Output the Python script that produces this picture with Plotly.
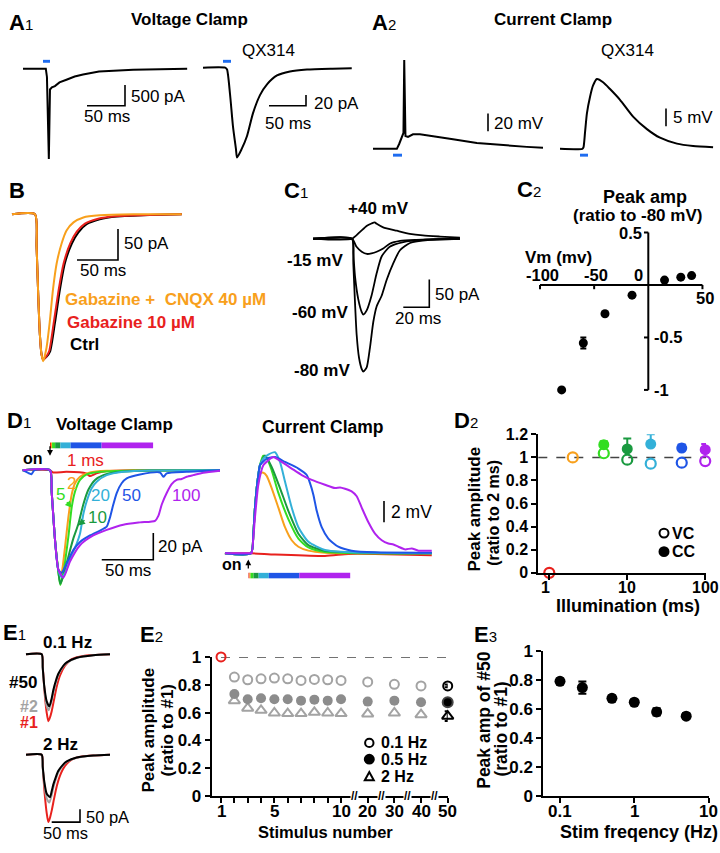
import math
import plotly.graph_objects as go

W, H = 720, 853
FONT = "Liberation Sans, Arial, Helvetica, sans-serif"

STIM = "#1e6cf0"
ORANGE = "#f8a01c"
RED = "#e8211d"
LIME = "#33dd22"
DGREEN = "#1a9a40"
CYAN = "#33b0d8"
BLUE = "#1f55e6"
PURPLE = "#b023ee"
GRAY = "#a3a3a3"
DGRAY = "#8c8c8c"

# ---------------- data ----------------
# A1 voltage clamp (ms, pA)
A1_vc_t = [0, 30, 31.5, 33, 34, 35.5, 38, 42, 48, 58, 68, 79, 100, 145, 216]
A1_vc_i = [0, 0, -200, -1400, -2170, -500, -450, -420, -330, -260, -190, -140, -70, -24, 0]
A1_qx_t = [0, 30, 32.5, 36.5, 40.5, 44.5, 46, 52, 59.5, 67.5, 77, 86.5, 100, 117.5, 140.5, 175, 201]
A1_qx_i = [0, 0, -3.5, -49, -109, -151, -167, -152, -127, -85, -51, -31, -14.5, -7, -3.5, -1.8, -0.9]
# A2 current clamp (ms, mV)
A2_cc_t = [0, 31, 34, 37, 39.6, 40.6, 42.2, 45.5, 52, 61, 78, 104, 135, 165, 200, 221]
A2_cc_v = [0, 0, 5.5, 12.5, 18, 101, 14.5, 13.5, 16.5, 16.5, 14.5, 11, 6.7, 4.4, 2.2, 1.1]
A2_qx_t = [0, 29, 30.5, 32.5, 35, 39, 43, 48, 56, 65, 78, 95, 113, 130, 152, 173, 199]
A2_qx_v = [0, 0, 0.4, 4.5, 9.9, 14.5, 17.7, 19.5, 18.6, 16.7, 13.7, 9, 5.5, 3.1, 1.45, 0.8, 0.45]
# B (ms, pA)
B_ctrl_t = [0, 28, 30, 32, 34, 36, 38, 42, 46.5, 52.5, 58.5, 64.5, 73, 81, 91, 107, 128, 168, 207]
B_ctrl_i = [0, 0, -52, -131, -194, -226, -234, -230, -221, -174, -121, -79, -47, -29, -16, -8, -3.6, -1.1, 0]
B_gbz_t = [0, 28, 30, 32, 34, 36, 38, 42, 45.5, 51, 57, 63, 71, 79, 89, 105, 126, 165, 207]
B_gbz_i = [0, 0, -52, -131, -194, -226, -235, -229, -220, -174, -121, -79, -47, -28, -15, -7, -3, -1, 0]
B_cnqx_t = [0, 28, 30, 32, 34, 36, 38, 42, 46, 50, 54.5, 60.5, 66.5, 75, 87, 107, 148, 207]
B_cnqx_i = [0, 0, -52, -131, -194, -226, -237, -216, -174, -121, -79, -47, -26, -13, -5, -1.6, 0, 0]
# C1 (ms, pA)
C1_p40_t = [0, 30, 36, 41.5, 45, 47.5, 49, 54, 64.5, 74.5, 84.5, 97.5, 113]
C1_p40_i = [0, 0, 12, 23.5, 27.5, 29.5, 27, 20.5, 14.5, 9, 6, 4, 2]
C1_m15_t = [0, 30, 33.5, 37.5, 41.5, 45, 49, 54, 59, 67, 79.5, 97.5, 113]
C1_m15_i = [0, 0, -14.5, -23.5, -27.5, -26.5, -23.5, -17.5, -9, -4, -2, -0.5, 0]
C1_m60_t = [0, 30, 31, 32.3, 34.8, 37.5, 38.7, 41.3, 45, 49, 52.8, 59, 69.5, 84.8, 113]
C1_m60_i = [0, 0, -26.5, -67.5, -109, -132.5, -137, -129.5, -103, -62, -32, -14.5, -6, -2, 0]
C1_m80_t = [0, 30, 31, 32.3, 33.6, 35.4, 37.5, 38.7, 41.3, 43.8, 46.4, 49, 52.8, 56.7, 61.8, 66.9, 74.6, 90, 113]
C1_m80_i = [0, 0, -44, -115, -174, -215, -235.5, -240, -232.5, -197, -150, -122, -103, -74, -44, -20.7, -7.6, -2, 0]
# C2 I-V
C2_vm = [-80, -60, -40, -15, 15, 30, 40]
C2_amp = [-1.0, -0.553, -0.274, -0.097, 0.047, 0.075, 0.09]
C2_err = [0, 0.053, 0, 0, 0, 0, 0]
# D1 illumination durations (ms) and colours
ILLUM = [1, 2, 5, 10, 20, 50, 100]
ILLUM_COL = [RED, ORANGE, LIME, DGREEN, CYAN, BLUE, PURPLE]
# D1 voltage clamp (ms, pA)
VC_t = {
    1: [-26.5, 0, 3, 16, 35, 38, 40, 45, 55, 80, 165],
    2: [-26.5, 0, 1.6, 4.9, 8.1, 9.7, 11.3, 14.6, 17.8, 21, 24.3, 29.1, 38.8, 55, 165],
    5: [-26.5, 0, 1.6, 4.9, 8.1, 10, 12.9, 17.8, 21, 24.3, 29.1, 35.6, 48.5, 80.8, 165],
    10: [-26.5, 0, 1.6, 4.9, 8.1, 10, 12.9, 17.8, 22.6, 27.5, 32.3, 37.2, 43.7, 51.7, 67.9, 97, 165],
    20: [-26.5, 0, 1.6, 4.9, 8.1, 11, 14.6, 21, 25.9, 29.1, 32.3, 35.6, 40.4, 45.3, 55, 71.1, 97, 165],
    50: [-26.5, -20, -18, -15, 0, 1.6, 4.9, 8.1, 11.3, 16.2, 22.6, 29.1, 38.8, 48.5, 55, 58.2, 61.4, 64.7, 69.5, 74.4, 87.3, 106.7, 110, 113.2, 132.6, 165],
    100: [-26.5, 0, 1.6, 4.9, 8.1, 12.9, 19.4, 29.1, 42, 55, 71.1, 87.3, 101.9, 105.1, 108.4, 113.2, 118, 122.9, 127.7, 132.6, 139, 148.7, 164.9],
}
VC_i = {
    1: [0, 0, -1.7, -1.2, -2.4, -4.2, -4.2, -2.4, -0.7, 0, 0],
    2: [0, 0, -16, -52.5, -74.5, -79, -77, -57.4, -35.4, -18.4, -9.8, -4.9, -1.7, -0.5, 0],
    5: [0, 0, -16, -52.5, -76, -86, -77, -50, -28.1, -16, -7.3, -3.2, -1.2, -0.2, 0],
    10: [0, 0, -16, -52.5, -76, -85, -79.4, -64.8, -51.3, -40.3, -25.7, -14.7, -7.3, -3.7, -1.2, -0.2, 0],
    20: [0, 0, -16, -52.5, -75, -80, -77, -63.5, -55, -47.7, -33, -23.3, -13.5, -8.6, -3.7, -1.2, -0.2, 0],
    50: [0, -2.5, -3, 0, 0, -16, -52.5, -74.5, -77, -69.7, -59.9, -53.8, -48.9, -45.2, -42.3, -35.4, -25.7, -17.1, -9.8, -6.1, -3.2, -1.7, -4.9, -2.4, -1.2, 0],
    100: [0, 0, -16, -52.5, -74.5, -80.6, -68.4, -56.2, -48.9, -44.7, -40.8, -39.1, -37.9, -34.2, -25.7, -17.1, -10.5, -7.3, -6.6, -4.9, -3.7, -2, -0.5],
}
# D1 current clamp (ms, mV)
CC_t = {
    1: [-25.6, 0, 23.6, 72.7, 95.7, 121.9, 177.7],
    2: [-25.6, 0, 2.3, 3.9, 5.6, 7.2, 9, 12.1, 15.4, 20.3, 26.9, 33.4, 40, 46.6, 56.4, 72.7, 177.7],
    5: [-25.6, 0, 2.3, 3.9, 5.6, 7.2, 8.8, 12.1, 15.4, 20.3, 26.9, 36.7, 46.6, 56.4, 72.7, 177.7],
    10: [-25.6, 0, 2.3, 3.9, 5.6, 7.2, 8.8, 13.8, 20.3, 28.5, 36.7, 46.6, 56.4, 72.7, 177.7],
    20: [-25.6, 0, 2.3, 3.9, 5.6, 7.2, 8.8, 12.1, 17, 23.6, 28.5, 33.4, 40, 46.6, 56.4, 72.7, 98.9, 177.7],
    50: [-25.6, 0, 2.3, 3.9, 5.6, 7.2, 8.8, 15.4, 23.6, 33.4, 46.6, 54.8, 58, 61.3, 64.6, 69.5, 76, 85.8, 98.9, 121.9, 177.7],
    100: [-25.6, 0, 0.66, 3.9, 7.2, 12.1, 17, 21.9, 30.1, 40, 49.9, 59.7, 72.7, 82.5, 87.5, 92.4, 98.9, 103.9, 108.8, 115.4, 121.9, 128.5, 135, 140, 144.9, 151.5, 158, 164.6, 177.7],
}
CC_v = {
    1: [0, 0, -0.12, -0.25, -0.06, -0.06, -0.18],
    2: [0, 0, 1.85, 4.31, 6.15, 7.0, 7.5, 7.6, 7.3, 6.15, 4.31, 2.46, 1.23, 0.62, 0.25, 0.06, 0],
    5: [0, 0, 1.85, 4.31, 6.15, 7.38, 8.3, 9.2, 9.0, 7.84, 5.69, 3.23, 1.39, 0.55, 0.12, 0],
    10: [0, 0, 1.85, 4.31, 6.15, 7.38, 8.3, 9.22, 8.14, 6.15, 4.0, 1.85, 0.77, 0.25, 0],
    20: [0, 0, 1.85, 4.31, 6.15, 7.38, 8.3, 8.92, 9.3, 9.53, 8.61, 6.76, 4.31, 2.46, 1.08, 0.31, 0.09, 0],
    50: [0, 0, 1.85, 4.31, 6.15, 7.38, 8.3, 8.92, 9.07, 8.61, 7.99, 7.38, 6.61, 5.53, 4.0, 2.46, 1.39, 0.62, 0.25, 0.09, 0.06],
    100: [0, 0, 0, 3.38, 6.46, 8.3, 8.76, 9.07, 8.61, 7.99, 7.38, 6.92, 6.46, 6.15, 6.21, 6.09, 5.84, 5.38, 4.31, 2.92, 1.85, 1.23, 0.92, 0.83, 0.62, 0.37, 0.46, 0.25, 0.25],
}
# D2
D2_ms = [1, 2, 5, 10, 20, 50, 100]
D2_vc = [0.0, 1.0, 1.036, 0.98, 0.946, 0.954, 0.968]
D2_cc_ms = [5, 10, 20, 50, 100]
D2_cc = [1.11, 1.073, 1.115, 1.081, 1.067]
D2_cc_err = [0.03, 0.09, 0.085, 0.03, 0.05]
D2_xticks = [1, 10, 100]
# E1 traces (ms, pA)
E1_01_t = {"#50": [0, 27.7, 29.5, 32.4, 36.6, 41.2, 45.4, 48.2, 53, 57.1, 65.9, 71.9, 89.6, 118.9, 148.4],
           "#2": [0, 27.7, 29.5, 32.4, 36.6, 40.1, 44.5, 48.2, 53, 57.1, 65.9, 71.9, 89.6, 118.9, 148.4],
           "#1": [0, 27.7, 30, 33, 36.6, 39.4, 42, 45.4, 49.5, 54.2, 60.1, 68.9, 80.7, 101.2, 148.4]}
E1_01_i = {"#50": [0, 0, -50, -125, -181, -200, -169, -138, -100, -75, -44, -31, -13, -3.3, 0],
           "#2": [0, 0, -50, -130, -200, -215, -185, -150, -108, -80, -47, -33, -14, -3.5, 0],
           "#1": [0, 0, -60, -150, -225, -257, -245, -219, -175, -125, -81.5, -44, -19, -6.3, 0]}
E1_2_t = {"#50": [0, 27.7, 29.5, 32.4, 36.6, 42.4, 45.4, 48.2, 53, 57.1, 65.9, 71.9, 89.6, 118.9, 148.4],
          "#2": [0, 27.7, 29.5, 32.4, 36.6, 41.2, 45.4, 48.2, 53, 57.1, 65.9, 71.9, 89.6, 118.9, 148.4],
          "#1": [0, 27.7, 30, 33, 36.6, 39.4, 42, 45.4, 49.5, 54.2, 60.1, 68.9, 80.7, 101.2, 148.4]}
E1_2_i = {"#50": [0, 0, -45, -105, -150, -163, -140, -115, -84, -62, -37, -26, -11, -3, 0],
          "#2": [0, 0, -50, -115, -168, -184, -155, -127, -92, -68, -40, -28, -12, -3, 0],
          "#1": [0, 0, -60, -150, -225, -259, -245, -215, -170, -122, -80, -43, -19, -6, 0]}
# E2
E2_stim = [1, 2, 3, 4, 5, 6, 7, 8, 9, 10, 20, 30, 40, 50]
E2_01 = [1.0, 0.855, 0.836, 0.843, 0.848, 0.843, 0.831, 0.838, 0.836, 0.831, 0.82, 0.803, 0.792, 0.792]
E2_05 = [1.0, 0.733, 0.696, 0.703, 0.696, 0.696, 0.686, 0.693, 0.686, 0.696, 0.679, 0.686, 0.674, 0.674]
E2_2 = [1.0, 0.686, 0.632, 0.616, 0.597, 0.593, 0.593, 0.602, 0.597, 0.593, 0.59, 0.597, 0.585, 0.574]
E2_err50 = [0.01, 0.02, 0.035]
E2_ticklab = [1, 5, 10, 20, 30, 40, 50]
# E3
E3_f = [0.1, 0.2, 0.5, 1, 2, 5]
E3_amp = [0.791, 0.748, 0.674, 0.647, 0.58, 0.551]
E3_err = [0.02, 0.042, 0.02, 0.015, 0.025, 0.02]
E3_xticks = [0.1, 1, 10]

# ---------------- helpers ----------------
fig = go.Figure()
layout = {}
shapes = []
annos = []


def X(px):
    return px / W


def Y(py):
    return 1 - py / H


def axn(n):
    return "" if n == 1 else str(n)


def panel(n, box, origin, sx, sy):
    x0, y0, x1, y1 = box
    ox, oy = origin
    layout["xaxis" + axn(n)] = dict(domain=[X(x0), X(x1)], range=[(x0 - ox) * sx, (x1 - ox) * sx],
                                     visible=False, anchor="y" + axn(n))
    layout["yaxis" + axn(n)] = dict(domain=[Y(y1), Y(y0)], range=[(oy - y1) * sy, (oy - y0) * sy],
                                     visible=False, anchor="x" + axn(n))
    return lambda px, py: ((px - ox) * sx, (oy - py) * sy)


def line(n, t, v, color="black", width=2, shape="spline"):
    fig.add_trace(go.Scatter(x=t, y=v, mode="lines",
                             line=dict(color=color, width=width, shape=shape, smoothing=0.6),
                             xaxis="x" + axn(n), yaxis="y" + axn(n), hoverinfo="skip", showlegend=False))


def scalebar(n, p2d, corner, dx=None, dy=None):
    cx, cy = p2d(*corner)
    if dx and dy:
        path = f"M{cx - dx},{cy} L{cx},{cy} L{cx},{cy + dy}"
    else:
        path = f"M{cx},{cy} L{cx},{cy + dy}"
    shapes.append(dict(type="path", path=path, xref="x" + axn(n), yref="y" + axn(n),
                       line=dict(color="black", width=1.6)))


def txt(px, py, s, size=17, color="black", bold=False, xanchor="center", angle=0):
    if bold:
        s = f"<b>{s}</b>"
    annos.append(dict(x=X(px), y=Y(py), xref="paper", yref="paper", text=s, showarrow=False,
                      xanchor=xanchor, yanchor="middle", textangle=angle,
                      font=dict(family=FONT, size=size, color=color)))


def letter(px, py, L, d):
    txt(px, py, f"<b>{L}</b><span style='font-size:15px'>{d}</span>", size=22, xanchor="left")


def rect(x0, y0, x1, y1, color):
    shapes.append(dict(type="rect", xref="paper", yref="paper", x0=X(x0), x1=X(x1), y0=Y(y1), y1=Y(y0),
                       fillcolor=color, line=dict(width=0)))


def arrow(tip, tail, color="black", width=1.3):
    annos.append(dict(x=X(tip[0]), y=Y(tip[1]), xref="paper", yref="paper", text="", showarrow=True,
                      ax=tail[0] - tip[0], ay=tail[1] - tip[1], arrowhead=2, arrowsize=0.9,
                      arrowwidth=width, arrowcolor=color))


def circ(cx, cy, r, filled):
    shapes.append(dict(type="circle", xref="paper", yref="paper", x0=X(cx - r), x1=X(cx + r),
                       y0=Y(cy + r), y1=Y(cy - r), line=dict(color="black", width=2),
                       fillcolor="black" if filled else "white"))


def xticklabel(n, xv, label, size, xshift=0):
    annos.append(dict(x=xv, y=0, xref="x" + axn(n), yref="y" + axn(n), text=f"<b>{label}</b>",
                      showarrow=False, xanchor="center", yanchor="top", yshift=-4, xshift=xshift,
                      font=dict(family=FONT, size=size, color="black")))


AX = dict(showline=True, linecolor="black", linewidth=2, ticks="outside", ticklen=5, tickwidth=2,
          tickcolor="black", showgrid=False, zeroline=False,
          tickfont=dict(family=FONT, size=16, color="black", weight="bold"))

# ---------------- Row A ----------------
letter(7, 14, "A", "1")
letter(370, 14, "A", "2")
txt(189, 11, "Voltage Clamp", 17, bold=True)
txt(553, 11, "Current Clamp", 17, bold=True)
txt(268, 42, "QX314", 17)
txt(627, 42, "QX314", 17)

p = panel(1, (15, 45, 200, 160), (23, 61), 50 / 38, 500 / 21.3)
line(1, A1_vc_t, A1_vc_i, shape="linear")
scalebar(1, p, (125, 99), 50, 500)
txt(129, 89, "500 pA", 17, xanchor="left")
txt(107, 110, "50 ms", 17)
rect(43, 52, 50, 55, STIM)

p = panel(2, (200, 45, 360, 160), (203, 60), 50 / 37, 20 / 11)
line(2, A1_qx_t, A1_qx_i)
scalebar(2, p, (306, 99), 50, 20)
txt(312, 97, "20 pA", 17, xanchor="left")
txt(288, 117, "50 ms", 17)
rect(223, 52, 231, 55, STIM)

p = panel(3, (365, 45, 550, 160), (373, 143), 1.3, 20 / 18)
line(3, A2_cc_t, A2_cc_v, shape="linear")
scalebar(3, p, (488, 125), dy=20)
txt(492, 117, "20 mV", 17, xanchor="left")
rect(393, 148, 402, 151, STIM)

p = panel(4, (555, 45, 720, 160), (560, 143), 1.3, 5 / 18.3)
line(4, A2_qx_t, A2_qx_v)
scalebar(4, p, (666, 120), dy=5)
txt(671, 111, "5 mV", 17, xanchor="left")
rect(580, 148, 588, 151, STIM)

# ---------------- Row B / C ----------------
letter(7, 186, "B", "")
p = panel(5, (5, 200, 190, 370), (12, 210), 50 / 41, 50 / 31.7)
line(5, B_ctrl_t, B_ctrl_i, "black")
line(5, B_gbz_t, B_gbz_i, RED)
line(5, B_cnqx_t, B_cnqx_i, ORANGE)
scalebar(5, p, (118, 256.7), 50, 50)
txt(122, 240, "50 pA", 17, xanchor="left")
txt(103, 267, "50 ms", 17)
txt(63, 297, "Gabazine +  CNQX 40 µM", 17, ORANGE, bold=True, xanchor="left")
txt(65, 321, "Gabazine 10 µM", 17, RED, bold=True, xanchor="left")
txt(68, 343, "Ctrl", 17, bold=True, xanchor="left")

letter(282, 186, "C", "1")
p = panel(6, (300, 205, 460, 380), (313, 235), 20 / 26, 50 / 28.3)
for t, v in [(C1_p40_t, C1_p40_i), (C1_m15_t, C1_m15_i), (C1_m60_t, C1_m60_i), (C1_m80_t, C1_m80_i)]:
    line(6, t, v, "black", 1.8)
scalebar(6, p, (429.3, 305), 20, 50)
txt(433, 292, "50 pA", 17, xanchor="left")
txt(418, 317, "20 ms", 17)
txt(378, 204, "+40 mV", 17, bold=True)
txt(345, 257, "-15 mV", 17, bold=True, xanchor="right")
txt(350, 310, "-60 mV", 17, bold=True, xanchor="right")
txt(352, 370, "-80 mV", 17, bold=True, xanchor="right")

# C2 crossing axes
letter(515, 185, "C", "2")
panel(7, (530, 215, 715, 400), (648.3, 282.3), 1 / 1.083, 1 / 107.3)
xa, ya = "x7", "y7"
shapes.append(dict(type="line", xref=xa, yref=ya, x0=-100, x1=50, y0=0, y1=0, line=dict(color="black", width=2)))
shapes.append(dict(type="line", xref=xa, yref=ya, x0=0, x1=0, y0=-1, y1=0.5, line=dict(color="black", width=2)))
for xv in [-100, -50, 50]:
    shapes.append(dict(type="line", xref=xa, yref=ya, x0=xv, x1=xv, y0=0, y1=-0.04, line=dict(color="black", width=2)))
for yv in [0.5, -0.5, -1]:
    shapes.append(dict(type="line", xref=xa, yref=ya, x0=0, x1=-4, y0=yv, y1=yv, line=dict(color="black", width=2)))
fig.add_trace(go.Scatter(x=C2_vm, y=C2_amp, mode="markers", xaxis=xa, yaxis=ya, cliponaxis=False,
                         marker=dict(color="black", size=9),
                         error_y=dict(type="data", array=C2_err, color="black", thickness=2, width=3),
                         hoverinfo="skip", showlegend=False))
for xv, lab in [(-100, "-100"), (-50, "-50")]:
    annos.append(dict(x=xv, y=0, xref=xa, yref=ya, text=f"<b>{lab}</b>", showarrow=False, yshift=10,
                      xshift=2, font=dict(family=FONT, size=16.5)))
annos.append(dict(x=0, y=0, xref=xa, yref=ya, text="<b>0</b>", showarrow=False, xanchor="right",
                  xshift=-3, yshift=10, font=dict(family=FONT, size=16.5)))
annos.append(dict(x=50, y=0, xref=xa, yref=ya, text="<b>50</b>", showarrow=False, xshift=3,
                  yshift=-13, font=dict(family=FONT, size=16.5)))
annos.append(dict(x=0, y=0.5, xref=xa, yref=ya, text="<b>0.5</b>", showarrow=False, xanchor="right",
                  xshift=-4, font=dict(family=FONT, size=16.5)))
for yv, lab in [(-0.5, "-0.5"), (-1, "-1")]:
    annos.append(dict(x=0, y=yv, xref=xa, yref=ya, text=f"<b>{lab}</b>", showarrow=False, xanchor="left",
                      xshift=4, font=dict(family=FONT, size=16.5)))
txt(645, 192, "Peak amp", 18, bold=True)
txt(637, 211, "(ratio to -80 mV)", 17, bold=True)
txt(558, 254, "Vm (mv)", 17, bold=True)

# ---------------- Row D ----------------
letter(5, 421, "D", "1")
txt(115, 425, "Voltage Clamp", 17, bold=True)
p = panel(8, (15, 440, 225, 600), (50, 471.7), 0.97, 20 / 27.3)
for ms, c in zip(ILLUM, ILLUM_COL):
    line(8, VC_t[ms], VC_i[ms], c, 2)
prev = 0
for ms, c in zip(ILLUM, ILLUM_COL):
    shapes.append(dict(type="rect", xref="x8", yref="paper", x0=prev, x1=ms, y0=Y(449.3), y1=Y(443.3),
                       fillcolor=c, line=dict(width=0)))
    prev = ms
scalebar(8, p, (153.3, 563.3), 50, 20)
txt(156, 550, "20 pA", 17, xanchor="left")
txt(128, 574, "50 ms", 17)
txt(33, 460, "on", 16, bold=True)
arrow((50, 457), (50, 446))
txt(85, 461.5, "1 ms", 17, RED)
txt(71, 485, "2", 17, ORANGE)
txt(60, 497, "5", 17, LIME)
txt(97, 520, "10", 17, DGREEN)
txt(100.5, 497.5, "20", 17, CYAN)
txt(131.7, 497.5, "50", 17, BLUE)
txt(185.7, 497.5, "100", 17, PURPLE)
arrow((72, 510), (65.5, 503), LIME, 1.5)
arrow((78.3, 528.3), (86, 521.7), DGREEN, 1.5)

txt(323, 428, "Current Clamp", 17.5, bold=True)
p = panel(9, (220, 440, 440, 600), (251, 556.7), 0.983, 2 / 21.7)
for ms, c in zip(ILLUM, ILLUM_COL):
    line(9, CC_t[ms], CC_v[ms], c, 2)
prev = 0
for ms, c in zip(ILLUM, ILLUM_COL):
    shapes.append(dict(type="rect", xref="x9", yref="paper", x0=prev - 2.5, x1=ms - 2.5, y0=Y(582.3), y1=Y(576.7),
                       fillcolor=c, line=dict(width=0)))
    prev = ms
scalebar(9, p, (384, 525), dy=2)
txt(389, 514, "2 mV", 17.5, xanchor="left")
txt(232, 568, "on", 16, bold=True)
arrow((248.3, 563), (248.3, 573.5))

# D2
letter(452, 421, "D", "2")
layout["xaxis10"] = dict(AX, type="log", domain=[X(538.3), X(706)], range=[-0.141, 2.01],
                         tickvals=D2_xticks, showticklabels=False, anchor="y10")
layout["yaxis10"] = dict(AX, domain=[Y(576.7), Y(435)], range=[0, 1.2],
                         tickvals=[0, 0.2, 0.4, 0.6, 0.8, 1.0, 1.2],
                         ticktext=["0", "0.2", "0.4", "0.6", "0.8", "1", "1.2"], anchor="x10")
for v in D2_xticks:
    xticklabel(10, math.log10(v), str(v), 16, xshift=-4 if v == 1 else 0)
shapes.append(dict(type="line", xref="x10 domain", yref="y10", x0=0, x1=1, y0=1, y1=1, layer="below",
                   line=dict(color="#444444", width=1.5, dash="dash")))
fig.add_trace(go.Scatter(x=D2_ms, y=D2_vc, mode="markers", xaxis="x10", yaxis="y10", cliponaxis=False,
                         marker=dict(symbol="circle-open", size=10, color=ILLUM_COL, line=dict(width=2.2)),
                         hoverinfo="skip", showlegend=False))
for ms, val, err in zip(D2_cc_ms, D2_cc, D2_cc_err):
    c = ILLUM_COL[ILLUM.index(ms)]
    fig.add_trace(go.Scatter(x=[ms], y=[val], mode="markers", xaxis="x10", yaxis="y10", cliponaxis=False,
                             marker=dict(size=11, color=c),
                             error_y=dict(type="data", symmetric=False, array=[err], arrayminus=[0],
                                          color=c, thickness=2, width=4),
                             hoverinfo="skip", showlegend=False))
circ(664, 536, 4.5, False)
circ(664, 555, 4.5, True)
txt(670, 536, "VC", 16, bold=True, xanchor="left")
txt(670, 555, "CC", 16, bold=True, xanchor="left")
txt(628, 611, "Illumination (ms)", 18, bold=True)
txt(475, 512, "Peak amplitude", 17, bold=True, angle=-90)
txt(493.3, 515, "(ratio to 2 ms)", 16, bold=True, angle=-90)

# ---------------- Row E ----------------
letter(1, 638, "E", "1")
txt(67, 648, "0.1 Hz", 17, bold=True)
txt(60, 752.5, "2 Hz", 17, bold=True)
panel(11, (20, 652, 120, 745), (26, 660), 50 / 28.3, 50 / 13.3)
p = panel(12, (20, 755, 120, 840), (26, 762.7), 50 / 28.3, 50 / 13.3)
for key, c in [("#1", RED), ("#2", GRAY), ("#50", "black")]:
    line(11, E1_01_t[key], E1_01_i[key], c, 2)
    line(12, E1_2_t[key], E1_2_i[key], c, 2)
scalebar(12, p, (80, 831.7), 50, 50)
txt(84, 826, "50 pA", 16.5, xanchor="left")
txt(65, 843, "50 ms", 16.5)
txt(22.5, 689, "#50", 17, bold=True)
txt(28.5, 713, "#2", 16, GRAY, bold=True)
txt(29, 729.5, "#1", 16, RED, bold=True)

# E2
letter(138, 640, "E", "2")
E2_pos = [n if n <= 10 else 8 + n / 5 for n in E2_stim]
layout["xaxis13"] = dict(AX, domain=[X(211.7), X(447.7)], range=[0.3, 18], anchor="y13",
                         tickvals=E2_pos, showticklabels=False)
layout["yaxis13"] = dict(AX, domain=[Y(805), Y(662.7)], range=[0, 1], anchor="x13",
                         tickvals=[0, 0.2, 0.4, 0.6, 0.8, 1], ticktext=["0", "0.2", "0.4", "0.6", "0.8", "1"],
                         tickfont=dict(family=FONT, size=17, color="black", weight="bold"))
for s in E2_ticklab:
    xticklabel(13, E2_pos[E2_stim.index(s)], str(s), 17)
shapes.append(dict(type="line", xref="x13", yref="y13", x0=1, x1=18, y0=1, y1=1, layer="below",
                   line=dict(color="#444444", width=1.5, dash="dash")))
n_mid = slice(1, len(E2_stim) - 1)
fig.add_trace(go.Scatter(x=E2_pos[n_mid], y=E2_2[n_mid], mode="markers", xaxis="x13", yaxis="y13",
                         marker=dict(symbol="triangle-up-open", size=10, color=GRAY, line=dict(width=2)),
                         hoverinfo="skip", showlegend=False))
fig.add_trace(go.Scatter(x=E2_pos[n_mid], y=E2_05[n_mid], mode="markers", xaxis="x13", yaxis="y13",
                         marker=dict(symbol="circle", size=10, color=DGRAY),
                         hoverinfo="skip", showlegend=False))
fig.add_trace(go.Scatter(x=E2_pos[n_mid], y=E2_01[n_mid], mode="markers", xaxis="x13", yaxis="y13",
                         marker=dict(symbol="circle-open", size=9, color=GRAY, line=dict(width=2)),
                         hoverinfo="skip", showlegend=False))
fig.add_trace(go.Scatter(x=[E2_pos[0]], y=[E2_01[0]], mode="markers", xaxis="x13", yaxis="y13",
                         cliponaxis=False,
                         marker=dict(symbol="circle-open", size=9, color=RED, line=dict(width=2)),
                         hoverinfo="skip", showlegend=False))
for series, sym, err in [(E2_01, "circle-open", E2_err50[0]), (E2_05, "circle", E2_err50[1]),
                         (E2_2, "triangle-up-open", E2_err50[2])]:
    fig.add_trace(go.Scatter(x=[E2_pos[-1]], y=[series[-1]], mode="markers", xaxis="x13", yaxis="y13",
                             cliponaxis=False,
                             marker=dict(symbol=sym, size=10 if sym != "circle-open" else 9, color="black",
                                         line=dict(width=2)),
                             error_y=dict(type="data", array=[err], color="black", thickness=2, width=3),
                             hoverinfo="skip", showlegend=False))
for xb in [11, 13, 15, 17]:
    annos.append(dict(x=xb, y=0, xref="x13", yref="y13", text="<b>//</b>", showarrow=False, bgcolor="white",
                      borderpad=0, font=dict(family=FONT, size=12, color="black")))
circ(369.3, 750.7, 4.2, False)
circ(369.3, 767.3, 4.5, True)
tx, ty = 369.3, 785
shapes.append(dict(type="path", xref="paper", yref="paper",
                   path=f"M{X(tx - 4.5)},{Y(ty + 3.8)} L{X(tx + 4.5)},{Y(ty + 3.8)} L{X(tx)},{Y(ty - 4.5)} Z",
                   line=dict(color="black", width=2), fillcolor="white"))
txt(379, 750.5, "0.1 Hz", 16, bold=True, xanchor="left")
txt(379, 767.5, "0.5 Hz", 16, bold=True, xanchor="left")
txt(379, 785, "2 Hz", 16, bold=True, xanchor="left")
txt(325, 842, "Stimulus number", 16.5, bold=True)
txt(149, 738, "Peak amplitude", 17, bold=True, angle=-90)
txt(168, 738, "(ratio to #1)", 17, bold=True, angle=-90)

# E3
letter(472, 640, "E", "3")
layout["xaxis14"] = dict(AX, type="log", domain=[X(543.3), X(709.3)], range=[-1.225, 1.01], anchor="y14",
                         tickvals=E3_xticks, showticklabels=False)
layout["yaxis14"] = dict(AX, domain=[Y(805), Y(656.7)], range=[0, 1], anchor="x14",
                         tickvals=[0, 0.2, 0.4, 0.6, 0.8, 1], ticktext=["0", "0.2", "0.4", "0.6", "0.8", "1"],
                         tickfont=dict(family=FONT, size=17, color="black", weight="bold"))
for v in E3_xticks:
    xticklabel(14, math.log10(v), str(v), 17)
fig.add_trace(go.Scatter(x=E3_f, y=E3_amp, mode="markers", xaxis="x14", yaxis="y14",
                         marker=dict(size=11, color="black"),
                         error_y=dict(type="data", array=E3_err, color="black", thickness=2, width=4),
                         hoverinfo="skip", showlegend=False))
txt(639, 842, "Stim freqency (Hz)", 18, bold=True)
txt(484, 728, "Peak amp of #50", 17.5, bold=True, angle=-90)
txt(501, 737, "(ratio to #1)", 17.5, bold=True, angle=-90)

fig.update_layout(width=W, height=H, margin=dict(l=0, r=0, t=0, b=0), paper_bgcolor="white",
                  plot_bgcolor="white", showlegend=False, shapes=shapes, annotations=annos,
                  font=dict(family=FONT, color="black"), **layout)
fig.write_html("out.html", config={"displayModeBar": False},
               post_script="document.body.style.margin='0px';document.body.style.overflow='hidden';")
